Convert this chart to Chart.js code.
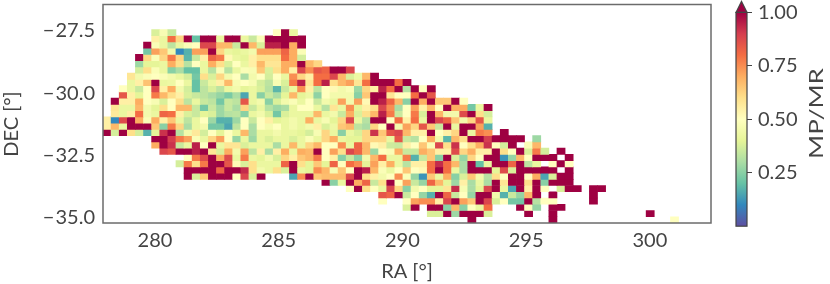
<!DOCTYPE html>
<html>
<head>
<meta charset="utf-8">
<title>MP/MR map</title>
<script src="https://cdn.jsdelivr.net/npm/chart.js@4"></script>
<style>
  html, body { margin: 0; background: #fff; }
  canvas { position: absolute; top: 0; }
  #mapChart { left: 0; }
  #barChart { left: 720px; }
</style>
</head>
<body>
<canvas id="mapChart" width="720" height="284"></canvas>
<canvas id="barChart" width="110" height="284"></canvas>
<script>
const _ = null;

// MP/MR per sky cell, one array per DEC row (top to bottom)
const row04 = [.38,.47,.35,_,_,_,_,_,_,_,_,_,_,_,_,.5,1,.42];
const row05 = [.55,.42,.8,.62,1,.2,1,1,.42,1,1,.42,.35,.48,1,1,1,1,1];
const row06 = [1,.48,.42,.33,.42,.48,.5,.88,.88,.68,.68,.35,1,.68,.38,.95,.95,1,.7,1];
const row07 = [.22,.72,.65,.45,.1,.17,.72,.72,1,.62,.42,.4,.42,.45,.72,.72,.72,.82,.7,.48];
const row08 = [1,.62,.48,.62,.78,.62,.18,.35,.55,.82,.78,.52,.42,.4,.55,.6,.6,.6,.8,.7,.37];
const row09 = [.28,.4,.4,.42,.7,.6,.32,.5,.42,.7,.6,.38,.5,.42,.55,.68,.58,.58,.7,.7,1,.68,.62];
const row10 = [.37,.6,.48,.42,.25,.3,.2,.2,.42,.32,.48,.32,.42,.48,.47,.65,.38,.6,.7,.55,.88,.75,.85,.82,1,1,.88];
const row11 = [.58,.45,.48,.5,.48,.45,.42,.37,.22,.6,.38,.62,.45,.5,.3,.45,.5,.37,.5,.42,.75,.62,.55,.8,.8,.88,.68,.38,.43,.68,1];
const row12 = [.42,.55,.66,1,.42,.43,.5,.42,.2,.35,.42,.55,.68,.47,.5,.47,.37,.33,.47,.38,.78,.95,.58,.8,.95,.6,.68,.72,.58,.8,1,1,1,.8,1];
const row13 = [.5,.42,.35,.5,.88,.55,.7,.45,.37,.2,.33,.38,.33,.42,.45,.4,.42,.38,.32,.18,.35,.42,.75,.55,.33,.5,.52,.45,.48,.28,.62,.55,.95,.8,1,.32,1,.5,1];
const row14 = [.85,.55,.4,.5,.78,.68,.6,.55,.38,.35,.33,.3,.27,.23,.3,.15,.42,.25,.35,.3,.4,.68,.4,.43,.26,.5,.45,.45,.45,.25,.65,1,1,.58,.5,.5,.8,1,.85];
const row15 = [1,.55,.55,.7,.5,.47,.38,.5,.6,.33,.42,.35,.33,.22,.35,.33,.85,.42,.45,.25,.38,.45,.48,.42,.5,.35,.45,.42,.72,.45,.72,.52,1,.95,.82,.68,.25,1,.7,1,.65,.65,1,.5];
const row16 = [.58,.42,.42,.68,.45,.4,.6,.5,.68,.68,.35,.22,.35,.28,.35,.3,.62,.35,.42,.32,.28,.3,.42,.5,.5,.42,.32,.58,.42,.75,.4,.55,.6,.88,.75,.3,.5,.72,.55,.68,.5,1,.7,.7,.22,.42,1];
const row17 = [.57,.42,.55,.8,.45,.42,.82,.8,.55,.38,.35,.4,.38,.28,.32,.33,.25,.42,.45,.38,.22,.38,.42,.42,.42,.68,.42,.45,.35,.7,.38,.6,.68,.95,.78,.35,.5,.78,.38,1,.68,.45,.45,.87,1,.6,.37];
const row18 = [.55,.1,.87,1,.7,.48,.7,.55,.65,.42,.33,.42,.5,.28,.17,.17,.28,.5,.35,.5,.55,.4,.42,.45,.42,.7,.42,.47,.4,.62,.88,.42,.32,1,1,.5,.8,.55,.8,.42,1,.88,.82,.65,.45,.62,.85,.42];
const row19 = [.55,.68,.42,1,1,1,.65,.25,.78,.62,.3,.42,.45,.22,.22,.15,.33,.5,.3,.5,.46,.5,.42,.45,.42,.45,.55,.38,.43,.65,.68,.33,.3,.62,.5,1,.45,.72,.62,.85,.65,.35,1,.42,1,1,.72,.17];
const row20 = [1,.37,1,.6,.37,.17,.4,.92,1,.32,.45,.57,.37,.5,.4,.5,.42,.68,.3,.42,.42,.45,.42,.42,.4,.37,.47,.62,.42,.25,.42,.38,.62,.92,.65,.85,.88,.68,.55,.55,1,.5,.55,.62,1,.42,.78,.75,_,1];
const row21 = [1,1,.9,.78,.72,.48,.42,.62,.72,.5,.27,.42,.28,.42,.38,.42,.42,.38,.42,.48,.42,.62,.7,.42,.4,.4,.62,.62,.62,.42,.85,.35,.32,.5,.7,.45,.18,.68,.6,1,1,.9,1,1,1,1,_,.28];
const row22 = [.7,1,.92,.35,.42,.95,.5,1,.42,.58,.58,.38,.42,.42,.42,.3,.42,.68,.42,.62,.68,.5,.5,.75,.42,.82,.68,.52,.55,.36,.35,.55,.5,.65,.48,.88,.6,.92,.5,.6,.7,.92,.5,.37,1,_,.48,.68];
const row23 = [.88,.85,1,1,.95,1,.58,.38,.7,.45,.72,.33,.55,.3,.55,.7,.42,.7,.68,1,.5,.72,.6,.88,.82,.68,.28,.5,.48,.7,.35,.35,.7,.65,.55,.55,.87,.62,.7,.55,.55,1,.6,.5,1,.38,.78,.37,_,1];
const row24 = [.5,.78,.87,1,.7,.87,.42,.78,.42,.4,.45,.38,.62,.55,.65,.68,.78,.5,.55,.25,.35,.25,.45,.68,.8,.42,.42,.78,.17,.35,.65,.25,1,.38,.27,.62,.5,1,1,.12,.27,.68,.5,1,1,1,_,1];
const row25 = [.37,.78,.6,.78,1,1,.85,.52,.38,.6,.42,.42,.42,.82,1,.6,.4,.65,.4,.82,.5,.8,.75,.4,.72,.55,.7,.42,.32,.55,.55,.8,.93,.8,.68,.3,1,.2,.42,1,1,.82,1,.33,.42,_,.5,1,.5];
const row26 = [1,1,1,1,.82,1,1,.93,.6,.45,.42,.6,.38,1,.42,.4,.75,.68,.47,.65,.5,1,.95,.68,.48,.42,.5,.65,.5,.52,.8,1,.8,.42,.3,1,1,1,.4,.87,.38,1,1,1,1,1,_,1];
const row27 = [1,.38,.65,1,1,1,.5,.88,.38,1,_,_,_,.15,.75,1,.65,.67,.67,.67,.87,1,.6,.55,.45,.5,.75,.48,.27,.12,.65,.42,.7,.25,.38,.65,.45,.32,.6,.5,1,1,.5,.7,.15,.38,1,1];
const row28 = [1,.25,.42,1,.7,.82,.35,.6,1,.5,.72,.35,.27,.82,.68,.4,.28,.55,.3,.42,.3,1,.58,1,1,.6,1,.25,1,1,1];
const row29 = [.5,1,.6,.5,.42,.88,.62,.25,.45,.5,.4,.4,.58,.93,.47,.3,.4,.88,1,.42,.15,1,.55,1,.5,_,.38,1,1,_,1,1];
const row30 = [.85,.82,1,.35,.5,.27,.17,1,.82,.35,.5,.27,1,1,.45,.17,.35,.27,.68,1,_,1,_,_,_,_,1];
const row31 = [.5,_,_,.5,.72,.75,.75,.55,.88,1,.72,.65,1,.88,.38,.5,.22,.22,1,.32,.5,.5,_,_,_,_,1];
const row32 = [.38,1,_,1,1,.25,.68,.25,.5,.42,.8,_,_,_,1,.5,.27,_,1,1];
const row33 = [.38,.38,1,.28,1,1,1,.38,_,_,_,_,1,_,_,1,_,_,_,_,_,_,_,_,_,_,_,1];
const row34 = [1,_,_,_,_,_,_,_,_,_,1,_,_,_,_,_,_,_,_,_,_,_,_,_,_,.5];

const rowTable = [row04,row05,row06,row07,row08,row09,row10,row11,row12,row13,row14,row15,row16,row17,row18,row19,
                  row20,row21,row22,row23,row24,row25,row26,row27,row28,row29,row30,row31,row32,row33,row34];
const rowFirstCol = [6,6,5,5,4,4,4,3,3,2,2,1,1,1,0,0,0,6,6,7,10,9,10,10,27,30,34,34,37,40,45];
const firstRow = 4;

const raTicks = [280, 285, 290, 295, 300];
const decTicks = [-35, -32.5, -30, -27.5];
const colorbarTicks = [0.25, 0.5, 0.75, 1];

// map extent and binning: 75 x 35 cells fill the frame
const raMin = 277.9, raMax = 302.47, decMin = -35.2, decMax = -26.44;
const raStep = (raMax - raMin) / 75, decStep = (decMax - decMin) / 35;

// Spectral_r
const spectral = ['#5e4fa2','#3288bd','#66c2a5','#abdda4','#e6f598','#ffffbf','#fee08b','#fdae61','#f46d43','#d53e4f','#9e0142'];

function hexToRgb(h) {
    return [1, 3, 5].map(i => parseInt(h.substr(i, 2), 16));
}

function colorFor(v) {
    const t = Math.min(Math.max(v, 0), 1) * (spectral.length - 1);
    const i = Math.min(Math.floor(t), spectral.length - 2);
    const a = hexToRgb(spectral[i]), b = hexToRgb(spectral[i + 1]);
    const c = a.map((x, k) => Math.round(x + (b[k] - x) * (t - i)));
    return `rgb(${c[0]},${c[1]},${c[2]})`;
}

const textColor = '#444';
const frameColor = '#6b6b6b';
const labelFont = { family: 'Lato', size: 20, weight: '400' };
const minus = v => v.toFixed(1).replace('-', '\u2212\u200a');

// the reference font runs wider than Lato
function wideContext(id) {
    const ctx = document.getElementById(id).getContext('2d');
    ctx.letterSpacing = '0.6px';
    return ctx;
}

// the layout reserves half a label at the axis ends, the frame has to stay put
function noEndPadding(axis) {
    axis.paddingTop = axis.paddingBottom = axis.paddingLeft = axis.paddingRight = 0;
}

// vertical titles placed by hand, the right hand axis title would read the wrong way
function sideTitle(chart, text, x, y, stretch) {
    const ctx = chart.ctx;
    ctx.save();
    ctx.translate(x, y);
    ctx.rotate(-Math.PI / 2);
    ctx.scale(stretch, 1);
    ctx.font = `${labelFont.weight} ${labelFont.size}px ${labelFont.family}`;
    ctx.fillStyle = textColor;
    ctx.textAlign = 'center';
    ctx.textBaseline = 'middle';
    ctx.fillText(text, 0, 0);
    ctx.restore();
}

const datasets = rowTable.map((values, r) => {
    const top = decMax - (r + firstRow) * decStep;
    const cells = [];
    values.forEach((v, i) => {
        if (v === null) return;
        cells.push({ x: raMin + (rowFirstCol[r] + i + 0.5) * raStep, y: [top - decStep, top], v: v });
    });
    return {
        data: cells,
        grouped: false,
        barPercentage: 1,
        categoryPercentage: 1,
        borderWidth: 0,
        backgroundColor: ctx => ctx.raw ? colorFor(ctx.raw.v) : 'transparent'
    };
});

const framePlugin = {
    id: 'frame',
    afterDraw(chart) {
        const a = chart.chartArea, ctx = chart.ctx;
        ctx.save();
        ctx.strokeStyle = frameColor;
        ctx.lineWidth = 1.5;
        ctx.strokeRect(a.left, a.top, a.right - a.left, a.bottom - a.top);
        ctx.restore();
        sideTitle(chart, 'DEC [\u00b0]', 12, 124, 1);
    }
};

new Chart(wideContext('mapChart'), {
    type: 'bar',
    data: { datasets: datasets },
    plugins: [framePlugin],
    options: {
        responsive: false,
        animation: false,
        layout: { padding: { top: 4.5, right: 9, bottom: 0, left: 0 } },
        plugins: { legend: { display: false }, tooltip: { enabled: false } },
        scales: {
            x: {
                type: 'linear', offset: false, min: raMin, max: raMax,
                grid: { display: false, drawTicks: false }, border: { display: false },
                afterBuildTicks: axis => { axis.ticks = raTicks.map(v => ({ value: v })); },
                afterFit: axis => { axis.height = 61; noEndPadding(axis); },
                ticks: { color: textColor, font: labelFont, padding: 6, maxRotation: 0, autoSkip: false, callback: v => String(v) },
                title: { display: true, text: 'RA [\u00b0]', color: textColor, font: labelFont, padding: { top: 2, bottom: 0 } }
            },
            y: {
                min: decMin, max: decMax,
                grid: { display: false, drawTicks: false }, border: { display: false },
                afterBuildTicks: axis => { axis.ticks = decTicks.map(v => ({ value: v })); },
                afterFit: axis => { axis.width = 103; noEndPadding(axis); },
                ticks: { color: textColor, font: labelFont, padding: 8, autoSkip: false, callback: v => minus(v) }
            }
        }
    }
});

const arrowPlugin = {
    id: 'arrow',
    afterDraw(chart) {
        const a = chart.chartArea, ctx = chart.ctx;
        ctx.save();
        ctx.fillStyle = spectral[10];
        ctx.strokeStyle = '#444';
        ctx.lineWidth = 1.2;
        ctx.beginPath();
        ctx.moveTo(a.left, a.top);
        ctx.lineTo((a.left + a.right) / 2, a.top - 11);
        ctx.lineTo(a.right, a.top);
        ctx.closePath();
        ctx.fill();
        ctx.stroke();
        ctx.strokeRect(a.left, a.top, a.right - a.left, a.bottom - a.top);
        ctx.restore();
        sideTitle(chart, 'MP/MR', 97, 113.5, 1.3);
    }
};

// colorbar gets its own little chart, same color ramp as the map
new Chart(wideContext('barChart'), {
    type: 'bar',
    data: {
        labels: ['MP/MR'],
        datasets: [{
            data: [[0, 1]],
            barPercentage: 1,
            categoryPercentage: 1,
            borderWidth: 0,
            backgroundColor: ctx => {
                const a = ctx.chart.chartArea;
                if (!a) return spectral[5];
                const g = ctx.chart.ctx.createLinearGradient(0, a.bottom, 0, a.top);
                spectral.forEach((c, i) => g.addColorStop(i / (spectral.length - 1), c));
                return g;
            }
        }]
    },
    plugins: [arrowPlugin],
    options: {
        responsive: false,
        animation: false,
        layout: { padding: { top: 12.4, right: 0, bottom: 57.8, left: 16 } },
        plugins: { legend: { display: false }, tooltip: { enabled: false } },
        scales: {
            x: { display: false },
            y: {
                position: 'right', min: 0, max: 1,
                grid: { display: true, drawOnChartArea: false, drawTicks: true, tickColor: '#444', tickLength: 5 },
                border: { display: false },
                afterBuildTicks: axis => { axis.ticks = colorbarTicks.map(v => ({ value: v })); },
                afterFit: axis => { axis.width = 83; noEndPadding(axis); },
                ticks: { color: textColor, font: labelFont, padding: 6, autoSkip: false, callback: v => v.toFixed(2) }
            }
        }
    }
});
</script>
</body>
</html>
